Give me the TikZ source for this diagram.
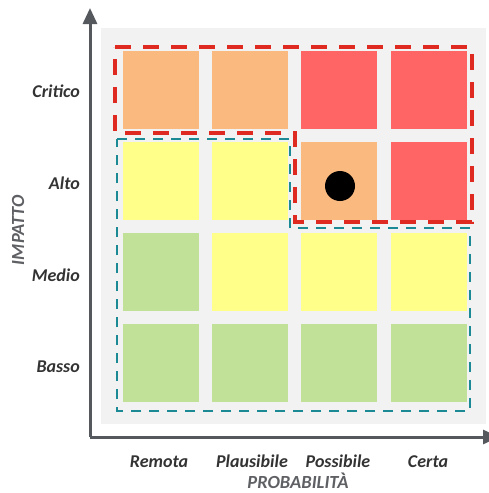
\documentclass[tikz,border=0pt]{standalone}
\usepackage{fontspec}
\setmainfont{Carlito}
\usetikzlibrary{arrows.meta}
\definecolor{bgray}{HTML}{F2F2F2}
\definecolor{cor}{HTML}{F9B97F}
\definecolor{cre}{HTML}{FF6565}
\definecolor{cye}{HTML}{FFFF8A}
\definecolor{cgr}{HTML}{C1E199}
\definecolor{axc}{HTML}{55595E}
\definecolor{dred}{HTML}{DF2A22}
\definecolor{dteal}{HTML}{1C8A95}
\definecolor{lbl}{HTML}{333333}
\definecolor{ttl}{HTML}{5F6064}
\tikzset{
  cell/.style={draw=none, minimum width=76pt, minimum height=78pt, inner sep=0pt, anchor=north west},
  lab/.style={font=\fontsize{18}{20}\selectfont\bfseries\itshape, text=lbl, inner sep=0pt},
  ttlstyle/.style={font=\fontsize{18.5}{20}\selectfont\bfseries\itshape, text=ttl, inner sep=0pt},
  axis/.style={draw=axc, line width=3pt, -{Triangle[length=16pt,width=14pt]}},
  reddash/.style={draw=dred, line width=3.5pt, dash pattern=on 16pt off 12pt},
  tealdash/.style={draw=dteal, line width=2.5pt, dash pattern=on 10pt off 8pt}
}
\begin{document}
\begin{tikzpicture}[x=1pt,y=-1pt]
\useasboundingbox (0,0) rectangle (489,493);
\clip (0,0) rectangle (489,493);
\fill[bgray] (101,28) rectangle (486,424);
% row 1 Critico
\node[cell, fill=cor] (c11) at (123,51) {};
\node[cell, fill=cor] (c12) at (212,51) {};
\node[cell, fill=cre] (c13) at (301,51) {};
\node[cell, fill=cre] (c14) at (391,51) {};
% row 2 Alto
\node[cell, fill=cye] (c21) at (123,142) {};
\node[cell, fill=cye] (c22) at (212,142) {};
\node[cell, fill=cor] (c23) at (301,142) {};
\node[cell, fill=cre] (c24) at (391,142) {};
% row 3 Medio
\node[cell, fill=cgr] (c31) at (123,233) {};
\node[cell, fill=cye] (c32) at (212,233) {};
\node[cell, fill=cye] (c33) at (301,233) {};
\node[cell, fill=cye] (c34) at (391,233) {};
% row 4 Basso
\node[cell, fill=cgr] (c41) at (123,324) {};
\node[cell, fill=cgr] (c42) at (212,324) {};
\node[cell, fill=cgr] (c43) at (301,324) {};
\node[cell, fill=cgr] (c44) at (391,324) {};
% dot
\node[circle, fill=black, minimum size=30pt, inner sep=0pt] (dot) at (340,186) {};
% dashed regions
\draw[reddash] (115,47) -- (472,47) -- (472,222) -- (295,222) -- (295,133) -- (115,133) -- cycle;
\draw[tealdash] (117,139) -- (290,139) -- (290,228) -- (470,228) -- (470,411) -- (117,411) -- cycle;
% axes
\coordinate (org) at (90,437);
\coordinate (ytip) at (90,8);
\coordinate (xtip) at (499,437);
\draw[axis] (org) -- (ytip);
\draw[axis] (org) -- (xtip);
% row labels
\node[lab, anchor=base east] (lcrit) at (80,97) {Critico};
\node[lab, anchor=base east] (lalto) at (80,189) {Alto};
\node[lab, anchor=base east] (lmed) at (80,281) {Medio};
\node[lab, anchor=base east] (lbas) at (80,372) {Basso};
% column labels
\node[lab, anchor=base] (lrem) at (159,467) {Remota};
\node[lab, anchor=base] (lpla) at (252,467) {Plausibile};
\node[lab, anchor=base] (lpos) at (338,467) {Possibile};
\node[lab, anchor=base] (lcer) at (428,467) {Certa};
% axis titles
\node[ttlstyle, rotate=90] (timp) at (18,230) {IMPATTO};
\node[ttlstyle, anchor=base] (tprob) at (298,488) {PROBABILITÀ};
\end{tikzpicture}
\end{document}
